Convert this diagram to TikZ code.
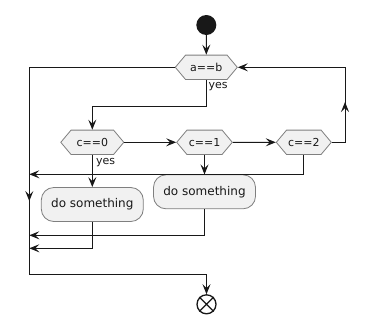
\documentclass[tikz,border=0pt]{standalone}
\usepackage{fontspec}
\setmainfont{DejaVu Sans}
\usetikzlibrary{shapes.symbols,arrows.meta}
\definecolor{lc}{HTML}{181818}
\definecolor{bfill}{HTML}{F1F1F1}
\definecolor{bdraw}{HTML}{7F7F7F}
\begin{document}
\begin{tikzpicture}[x=1pt,y=-1pt,
 hexa/.style={signal, signal to=west and east, signal pointer angle=100, draw=bdraw, fill=bfill, line width=0.8pt, minimum height=24.4pt, inner sep=0pt, text=lc, font=\fontsize{11}{13}\selectfont},
 act/.style={rectangle, rounded corners=12.5pt, draw=bdraw, fill=bfill, line width=0.8pt, minimum width=102pt, minimum height=34pt, inner sep=0pt, text=lc, font=\fontsize{12}{14}\selectfont},
 conn/.style={draw=lc, line width=1pt},
 arr/.style={conn, -{Stealth[length=10pt,width=8pt,inset=4pt]}},
 lbl/.style={font=\fontsize{11}{13}\selectfont, inner sep=0pt, anchor=base west, text=lc}]
\useasboundingbox (0,0) rectangle (379,333);
% nodes
\node[circle, fill=lc, minimum size=20pt, inner sep=0pt] (start) at (206.3,25) {};
\node[hexa, minimum width=62pt] (ab) at (206.3,67.3) {a==b};
\node[hexa, minimum width=63pt] (c0) at (92.3,142.3) {c==0};
\node[hexa, minimum width=55.6pt] (c1) at (204.5,142.3) {c==1};
\node[hexa, minimum width=55pt] (c2) at (303.8,142.3) {c==2};
\node[act] (b1) at (92.3,204.5) {do something};
\node[act] (b2) at (204.5,191.8) {do something};
\node[circle, draw=lc, line width=1.3pt, minimum size=19pt, inner sep=0pt] (end) at (206.5,304.3) {};
\draw[lc, line width=1.3pt] (end.north east) -- (end.south west) (end.north west) -- (end.south east);
% coordinates
\coordinate (ltop) at (29.3,67.3);
\coordinate (lbot) at (29.3,274.3);
\coordinate (lmid) at (29.3,201);
\coordinate (lmida) at (29.3,190);
\coordinate (j1) at (29.3,174.3);
\coordinate (j2) at (29.3,235.3);
\coordinate (j3) at (29.3,248.3);
\coordinate (rt) at (345,67.3);
\coordinate (rmid) at (345,102);
\coordinate (rmida) at (345,115);
% connectors
\draw[arr] (start) -- (ab);
\draw[arr] (ab.south) |- (206.3,106.3) -| (c0.north);
\node[lbl] (yes1) at (208.5,88.3) {yes};
\draw[arr] (ab.west) -- (ltop) -- (lbot) -| (end.north);
\draw[arr] (lmida) -- (lmid);
\draw[arr] (c0) -- (c1);
\draw[arr] (c1) -- (c2);
\draw[arr] (c2.east) -| (rt) -- (ab.east);
\draw[arr] (rmida) -- (rmid);
\draw[arr] (c0.south) -- (b1.north);
\node[lbl] (yes2) at (96,164.5) {yes};
\draw[arr] (c1.south) -- (b2.north);
\draw[arr] (c2.south) |- (j1);
\draw[arr] (b2.south) |- (j2);
\draw[arr] (b1.south) |- (j3);
\end{tikzpicture}
\end{document}
